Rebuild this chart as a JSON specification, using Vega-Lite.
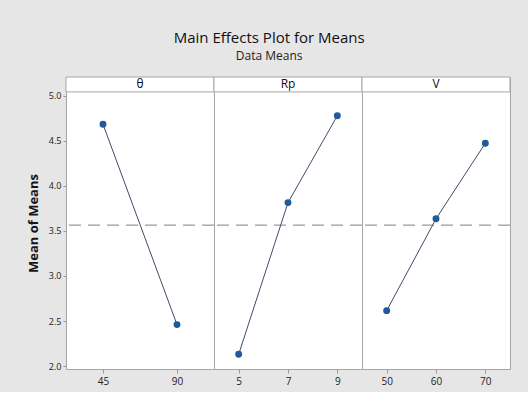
{
  "$schema": "https://vega.github.io/schema/vega-lite/v6.json",
  "background": "#e6e6e6",
  "padding": {"left": 27, "top": 31, "right": 17, "bottom": 5},
  "bounds": "flush",
  "title": {
    "text": "Main Effects Plot for Means",
    "subtitle": "Data Means",
    "font": "Open Sans",
    "fontSize": 15,
    "fontWeight": 500,
    "color": "#111111",
    "subtitleFont": "Open Sans",
    "subtitleFontSize": 12,
    "subtitleColor": "#222222",
    "subtitlePadding": 5,
    "frame": "bounds",
    "anchor": "middle",
    "offset": 14
  },
  "data": {
    "values": [
      {"factor": "θ", "level": "45", "mean": 4.685},
      {"factor": "θ", "level": "90", "mean": 2.46},
      {"factor": "Rp", "level": "5", "mean": 2.13},
      {"factor": "Rp", "level": "7", "mean": 3.815},
      {"factor": "Rp", "level": "9", "mean": 4.78},
      {"factor": "V", "level": "50", "mean": 2.615},
      {"factor": "V", "level": "60", "mean": 3.635},
      {"factor": "V", "level": "70", "mean": 4.475}
    ]
  },
  "facet": {
    "column": {"field": "factor", "type": "nominal", "sort": ["θ", "Rp", "V"], "header": null}
  },
  "spacing": 0,
  "resolve": {"scale": {"x": "independent"}},
  "spec": {
    "width": 148,
    "height": 292,
    "layer": [
      {
        "transform": [{"aggregate": [{"op": "count", "as": "n"}], "groupby": ["factor"]}],
        "mark": {"type": "rect", "fill": "white", "stroke": "#a6a6a6", "strokeWidth": 1},
        "encoding": {
          "y": {"datum": 5.044, "type": "quantitative", "scale": {"domain": [1.967, 5.21], "nice": false, "zero": false}},
          "y2": {"datum": 5.21}
        }
      },
      {
        "transform": [{"aggregate": [{"op": "count", "as": "n"}], "groupby": ["factor"]}],
        "mark": {"type": "text", "font": "Open Sans", "fontSize": 12, "color": "#111111", "baseline": "middle"},
        "encoding": {
          "y": {"datum": 5.127, "type": "quantitative"},
          "text": {"field": "factor"}
        }
      },
      {
        "transform": [{"aggregate": [{"op": "count", "as": "n"}], "groupby": ["factor"]}],
        "mark": {"type": "rule", "strokeDash": [12, 7], "color": "#808080", "strokeWidth": 1},
        "encoding": {"y": {"datum": 3.565, "type": "quantitative"}}
      },
      {
        "mark": {"type": "line", "color": "#3d4d66", "strokeWidth": 1,
                 "point": {"filled": true, "color": "#1f5a9a", "size": 48, "opacity": 1}},
        "encoding": {
          "x": {"field": "level", "type": "ordinal",
                "axis": {"title": null, "labelAngle": 0, "labelFont": "Open Sans", "labelFontSize": 10,
                         "labelColor": "#222222", "tickColor": "#999999", "tickSize": 4,
                         "domain": false, "labelPadding": 3}},
          "y": {"field": "mean", "type": "quantitative",
                "axis": {"title": "Mean of Means", "values": [2, 2.5, 3, 3.5, 4, 4.5, 5], "format": ".1f",
                         "labelFont": "Open Sans", "labelFontSize": 9, "labelColor": "#222222",
                         "tickColor": "#999999", "tickSize": 3, "domain": false, "grid": false,
                         "labelPadding": 2, "titleFont": "Open Sans", "titleFontSize": 13,
                         "titleFontWeight": "bold", "titleColor": "#151515", "titlePadding": 8}}
        }
      }
    ]
  },
  "config": {
    "view": {"fill": "white", "stroke": "#a6a6a6"}
  }
}
